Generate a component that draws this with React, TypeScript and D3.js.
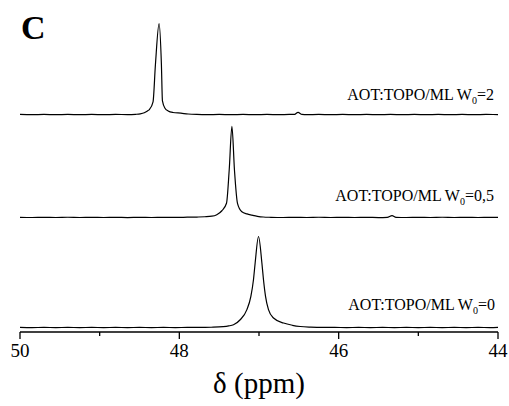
import React from "react";
import * as d3 from "d3";

// 31P NMR spectra (chemical shift in ppm, normalised intensity)
const shiftDomain: [number, number] = [50, 44];
const majorTicks = [50, 48, 46, 44];
const minorTicks = [49, 47, 45];

const labelW2 = "=2";
const labelW05 = "=0,5";
const labelW0 = "=0";
const labelStem = "AOT:TOPO/ML W";
const labelSub = "0";

const spectrumW2: [number, number][] = [
  [50.0, 0.1], [49.85, -0.1], [49.7, 0.15], [49.55, -0.1], [49.4, 0.1], [49.25, -0.15],
  [49.1, 0.1], [48.95, -0.1], [48.8, 0.15], [48.65, 0.0], [48.55, 0.3], [48.49, 0.8],
  [48.44, 2.0], [48.4, 4.0], [48.376, 5.5], [48.33, 14], [48.3, 55], [48.254, 100],
  [48.225, 55], [48.212, 15], [48.18, 7], [48.14, 4], [48.08, 2.3], [47.98, 1.5],
  [47.89, 0.6], [47.78, 0.1], [47.65, -0.1], [47.5, 0.1], [47.35, -0.1], [47.2, 0.15],
  [47.05, -0.1], [46.9, 0.1], [46.75, -0.1], [46.62, 0.1], [46.56, 0.1], [46.51, 2.4],
  [46.46, 0.1], [46.4, -0.1], [46.25, 0.15], [46.1, -0.1], [45.95, 0.1], [45.8, -0.15],
  [45.65, 0.1], [45.5, -0.1], [45.35, 0.1], [45.2, -0.1], [45.05, 0.1], [44.9, -0.1],
  [44.75, 0.15], [44.6, -0.1], [44.45, 0.1], [44.3, -0.1], [44.15, 0.1], [44.0, 0.0],
];

const spectrumW05: [number, number][] = [
  [50.0, 0.1], [49.85, -0.1], [49.7, 0.1], [49.55, -0.1], [49.4, 0.15], [49.25, -0.1],
  [49.1, 0.1], [48.95, -0.1], [48.8, 0.1], [48.65, -0.15], [48.5, 0.1], [48.35, -0.1],
  [48.2, 0.1], [48.05, -0.05], [47.9, 0.2], [47.78, 0.4], [47.68, 0.7], [47.592, 1.3],
  [47.53, 3.0], [47.466, 7.3], [47.408, 15.5], [47.374, 52], [47.34, 100], [47.308, 52],
  [47.27, 15.5], [47.215, 6.2], [47.15, 3.8], [47.089, 2.5], [47.02, 1.2], [46.947, 0.4],
  [46.85, 0.1], [46.7, -0.1], [46.55, 0.1], [46.4, -0.1], [46.25, 0.15], [46.1, -0.1],
  [45.95, 0.1], [45.8, -0.1], [45.65, 0.1], [45.5, -0.15], [45.39, 0.1], [45.33, 2.0],
  [45.28, 0.1], [45.15, -0.1], [45.0, 0.1], [44.85, -0.1], [44.7, 0.15], [44.55, -0.1],
  [44.4, 0.1], [44.25, -0.1], [44.1, 0.1], [44.0, 0.0],
];

const spectrumW0: [number, number][] = [
  [50.0, 0.2], [49.85, -0.1], [49.7, 0.1], [49.55, -0.15], [49.4, 0.1], [49.25, -0.1],
  [49.1, 0.15], [48.95, -0.1], [48.8, 0.1], [48.65, -0.1], [48.5, 0.1], [48.35, -0.1],
  [48.2, 0.1], [48.05, -0.1], [47.9, 0.15], [47.75, 0.1], [47.6, 0.3], [47.45, 0.9],
  [47.38, 1.7], [47.32, 3.0], [47.236, 8.5], [47.152, 19.6], [47.102, 34.3], [47.069, 52.8],
  [47.048, 71.2], [47.006, 100], [46.964, 71.2], [46.944, 52.8], [46.918, 34.3], [46.881, 19.6],
  [46.818, 10.4], [46.692, 4.9], [46.58, 2.4], [46.482, 1.1], [46.35, 0.4], [46.2, 0.1],
  [46.05, 0.1], [45.9, -0.1], [45.75, 0.1], [45.6, -0.1], [45.45, 0.1], [45.3, -0.1],
  [45.15, 0.15], [45.0, -0.1], [44.85, 0.1], [44.7, -0.1], [44.55, 0.1], [44.4, -0.15],
  [44.25, 0.1], [44.1, -0.1], [44.0, 0.1],
];

const serif = "'Liberation Serif', Tinos, 'Times New Roman', 'DejaVu Serif', serif";

export default function App() {
  const width = 509;
  const height = 406;
  const axisY = 332;

  const x = d3.scaleLinear().domain(shiftDomain).range([20, 498]);
  const y = d3.scaleLinear().domain([0, 100]).range([327.5, 236.5]);

  const traces = [
    { data: spectrumW0, offset: 0, tail: labelW0, labelY: 310, labelX: 495 },
    { data: spectrumW05, offset: 121, tail: labelW05, labelY: 200.5, labelX: 494 },
    { data: spectrumW2, offset: 234, tail: labelW2, labelY: 100, labelX: 494 },
  ];

  const textStyle = { fontFamily: serif };

  return (
    <svg
      width={width}
      height={height}
      style={{ position: "absolute", left: 0, top: 0, background: "#fff" }}
    >
      <rect width={width} height={height} fill="#fff" />

      {traces.map((t, i) => {
        const line = d3
          .line<[number, number]>()
          .x((d) => x(d[0]))
          .y((d) => y(d[1] + t.offset))
          .curve(d3.curveMonotoneX);
        return (
          <g key={i}>
            <path d={line(t.data) ?? ""} fill="none" stroke="#000" strokeWidth={1.2} />
            <text
              x={t.labelX}
              y={t.labelY}
              textAnchor="end"
              style={textStyle}
              fontSize={16}
              fill="#000"
            >
              {labelStem}
              <tspan fontSize={10} dy={4}>
                {labelSub}
              </tspan>
              <tspan dy={-4}>{t.tail}</tspan>
            </text>
          </g>
        );
      })}

      {/* x axis */}
      <line x1={x(50)} x2={x(44)} y1={axisY} y2={axisY} stroke="#000" strokeWidth={1.5} />
      {majorTicks.map((v) => (
        <g key={"M" + v}>
          <line x1={x(v)} x2={x(v)} y1={axisY} y2={axisY + 7} stroke="#000" strokeWidth={1.3} />
          <text
            x={x(v)}
            y={357}
            textAnchor="middle"
            style={textStyle}
            fontSize={19}
            fill="#000"
          >
            {v}
          </text>
        </g>
      ))}
      {minorTicks.map((v) => (
        <line key={"m" + v} x1={x(v)} x2={x(v)} y1={axisY} y2={axisY + 4} stroke="#000" strokeWidth={1.3} />
      ))}

      <text x={259} y={393} textAnchor="middle" style={textStyle} fontSize={29} fill="#000">
        δ (ppm)
      </text>

      <text x={21} y={39} style={textStyle} fontSize={34} fontWeight="bold" fill="#000">
        C
      </text>
    </svg>
  );
}
